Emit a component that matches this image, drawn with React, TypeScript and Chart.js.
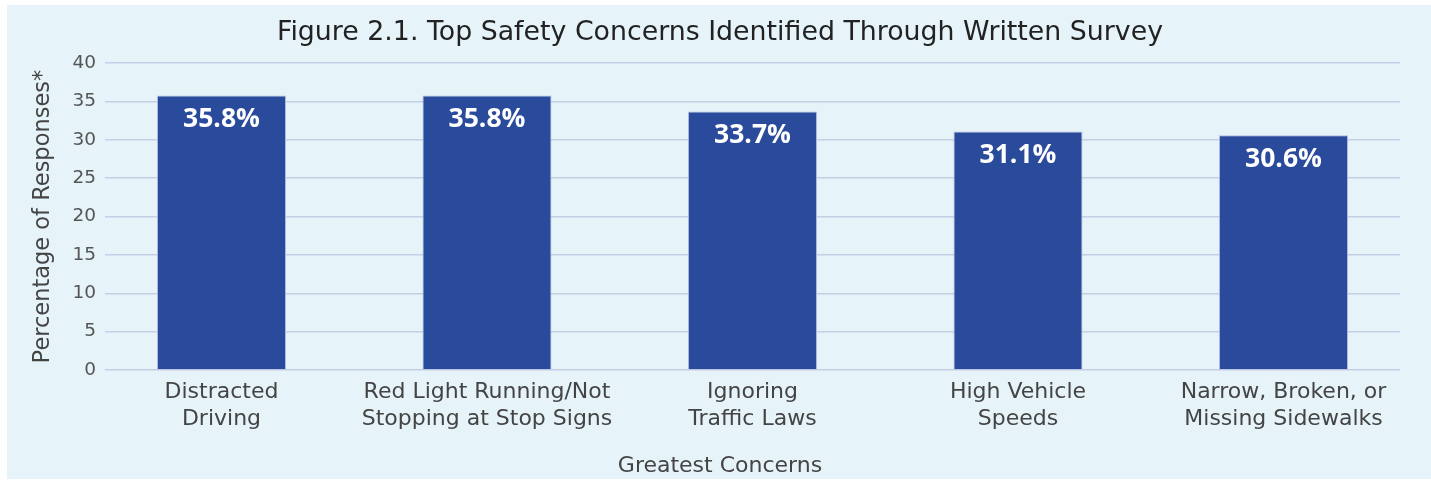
import React, { useEffect, useRef } from "react";
import { Chart, registerables } from "chart.js";

Chart.register(...registerables);

const categories: string[][] = [
  ["Distracted", "Driving"],
  ["Red Light Running/Not", "Stopping at Stop Signs"],
  ["Ignoring", "Traffic Laws"],
  ["High Vehicle", "Speeds"],
  ["Narrow, Broken, or", "Missing Sidewalks"],
];
const values: number[] = [35.8, 35.8, 33.7, 31.1, 30.6];
const yTicks: number[] = [0, 5, 10, 15, 20, 25, 30, 35, 40];

const TITLE = "Figure 2.1. Top Safety Concerns Identified Through Written Survey";
const Y_TITLE = "Percentage of Responses*";
const X_TITLE = "Greatest Concerns";

const FONT = "'DejaVu Sans', 'Open Sans', sans-serif";
const BOLD_FONT = "'Open Sans', 'Noto Sans', sans-serif";

const valueLabels = {
  id: "valueLabels",
  afterDatasetsDraw(chart: any) {
    const ctx = chart.ctx;
    const meta = chart.getDatasetMeta(0);
    ctx.save();
    ctx.fillStyle = "#ffffff";
    ctx.font = `bold 26.5px ${BOLD_FONT}`;
    ctx.textAlign = "center";
    ctx.textBaseline = "middle";
    meta.data.forEach((bar: any, i: number) => {
      ctx.fillText(values[i].toFixed(1) + "%", bar.x, bar.y + 24);
    });
    ctx.restore();
  },
};

export default function App() {
  const ref = useRef<HTMLCanvasElement>(null);
  useEffect(() => {
    if (!ref.current) return;
    const chart = new Chart(ref.current, {
      type: "bar",
      data: {
        datasets: [
          {
            data: values.map((v, i) => ({ x: i, y: v })),
            backgroundColor: "#2a4a9b",
            borderColor: "#aebbe2",
            borderWidth: 1,
            barPercentage: 0.486,
            categoryPercentage: 1,
          },
        ],
      },
      options: {
        animation: false,
        responsive: false,
        maintainAspectRatio: false,
        layout: { padding: { top: 7, right: 31, left: 33, bottom: 0 } },
        plugins: {
          legend: { display: false },
          tooltip: { enabled: false },
          title: {
            display: true,
            text: TITLE,
            color: "#222222",
            font: { family: FONT, size: 26.8, weight: "normal" },
            padding: { top: 5, bottom: 14 },
          },
          subtitle: {
            display: true,
            position: "bottom",
            text: X_TITLE,
            color: "#444444",
            font: { family: FONT, size: 22, weight: "normal" },
            padding: { top: 0, bottom: 0 },
          },
        },
        scales: {
          x: {
            type: "linear",
            offset: false,
            min: -0.4388,
            max: 4.4388,
            grid: { display: false },
            border: { display: false },
            afterBuildTicks: (axis: any) => {
              axis.ticks = categories.map((_, i) => ({ value: i }));
            },
            afterFit: (axis: any) => {
              axis.height = 82.6;
            },
            ticks: {
              autoSkip: false,
              maxRotation: 0,
              padding: 1,
              color: "#444444",
              font: { family: FONT, size: 22, lineHeight: 1.23 },
              callback: (v: any) => categories[Math.round(Number(v))] ?? "",
            },
          },
          y: {
            min: 0,
            max: 40,
            afterBuildTicks: (axis: any) => {
              axis.ticks = yTicks.map((v) => ({ value: v }));
            },
            afterFit: (axis: any) => {
              axis.width = 65;
            },
            grid: { color: "#c4cee4", lineWidth: 1.5, drawTicks: false },
            border: { display: false },
            ticks: {
              padding: 9,
              color: "#555555",
              font: { family: FONT, size: 18.5 },
            },
            title: {
              display: true,
              text: Y_TITLE,
              color: "#444444",
              font: { family: FONT, size: 22.5, weight: "normal" },
              padding: { top: -10.5, bottom: 0 },
            },
          },
        },
      },
      plugins: [valueLabels],
    });
    return () => chart.destroy();
  }, []);

  return (
    <div
      style={{
        position: "absolute",
        left: 7,
        top: 5,
        width: 1424,
        height: 474,
        background: "#e6f4fa",
      }}
    >
      <canvas ref={ref} width={1424} height={474} style={{ display: "block" }} />
    </div>
  );
}
